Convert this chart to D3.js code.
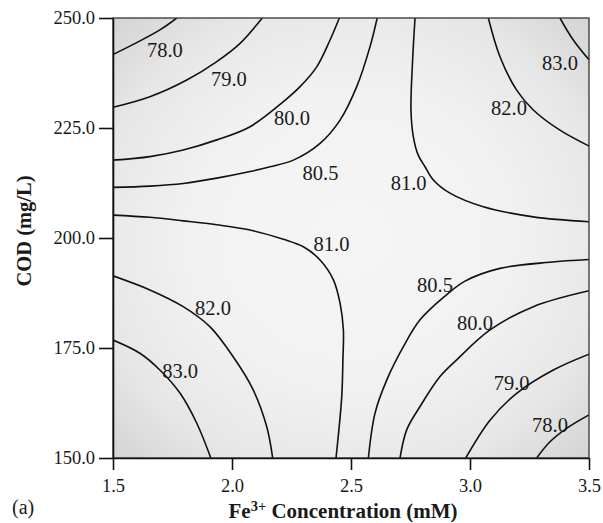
<!DOCTYPE html>
<html>
<head>
<meta charset="utf-8">
<script src="https://cdn.jsdelivr.net/npm/d3@7"></script>
<style>
  html, body { margin: 0; padding: 0; background: #fff; }
  svg { display: block; }
  svg text { font-family: "Liberation Serif", "Times New Roman", "DejaVu Serif", serif !important; fill: #1a1a1a; }
</style>
</head>
<body>
<svg id="chart" width="603" height="523"></svg>
<script>
// ---- data (Fe3+ mM, COD mg/L) ----
const xTicks = [1.5, 2.0, 2.5, 3.0, 3.5];
const yTicks = [150, 175, 200, 225, 250];

const contour78TL = [[1.5,241.7],[1.585,244.0],[1.697,247.3],[1.768,250]];
const contour79TL = [[1.5,229.7],[1.655,232.1],[1.810,235.9],[1.936,240.1],[2.034,244.25],[2.127,250]];
const contour80TL = [[1.5,217.7],[1.655,218.5],[1.795,220.0],[1.936,222.3],[2.076,225.3],[2.216,231.0],[2.286,234.4],[2.356,238.9],[2.412,245.0],[2.451,250]];
const contour805TL = [[1.5,211.5],[1.655,211.8],[1.795,212.4],[1.936,213.6],[2.076,215.1],[2.160,216.2],[2.258,217.7],[2.370,221.5],[2.454,226.8],[2.524,234.4],[2.580,243.5],[2.610,250]];
const contour81TR = [[2.769,250],[2.759,240.5],[2.752,229.1],[2.762,223.0],[2.782,218.9],[2.811,216.2],[2.846,213.2],[2.916,210.2],[3.056,207.1],[3.266,204.8],[3.5,203.7]];
const contour82TR = [[3.077,250],[3.126,241.2],[3.196,233.6],[3.266,229.1],[3.378,224.5],[3.5,220.9]];
const contour83TR = [[3.378,250],[3.434,245.0],[3.5,240.5]];
const contour81BL = [[1.5,205.2],[1.655,204.7],[1.795,203.9],[1.936,203.0],[2.076,201.8],[2.216,199.7],[2.300,198.0],[2.370,195.0],[2.426,190.5],[2.454,185.2],[2.468,179.1],[2.466,172.3],[2.461,163.9],[2.437,150]];
const contour82BL = [[1.5,191.4],[1.655,188.2],[1.795,184.4],[1.908,179.8],[2.005,173.0],[2.089,165.5],[2.146,157.1],[2.171,150]];
const contour83BL = [[1.5,176.8],[1.613,173.8],[1.697,170.0],[1.782,164.7],[1.852,157.9],[1.911,150]];
const contour805BR = [[3.5,195.1],[3.336,194.5],[3.126,193.1],[2.979,190.2],[2.895,186.8],[2.790,181.4],[2.720,175.3],[2.650,167.7],[2.601,160.2],[2.573,150]];
const contour80BR = [[3.5,188.0],[3.266,184.4],[3.084,179.1],[2.944,172.3],[2.874,168.5],[2.790,161.7],[2.734,156.4],[2.706,150]];
const contour79BR = [[3.5,173.6],[3.350,170.0],[3.196,164.7],[3.084,158.6],[2.982,150]];
const contour78BR = [[3.5,159.8],[3.406,156.75],[3.336,153.7],[3.280,150]];

const contours = [contour78TL, contour79TL, contour80TL, contour805TL, contour81TR, contour82TR, contour83TR,
                  contour81BL, contour82BL, contour83BL, contour805BR, contour80BR, contour79BR, contour78BR];

const labelText = ["78.0","79.0","80.0","80.5","81.0","81.0","82.0","83.0","82.0","83.0","80.5","80.0","79.0","78.0"];
const labelX    = [1.718, 1.987, 2.252, 2.372, 2.742, 2.418, 3.164, 3.378, 1.920, 1.782, 2.853, 3.021, 3.175, 3.336];
const labelY    = [242.7, 236.1, 227.2, 214.7, 212.4, 198.6, 229.5, 239.8, 184.1, 169.8, 189.3, 180.7, 167.0, 157.5];

// ---- layout ----
const SERIF = "'Liberation Serif', 'Times New Roman', 'DejaVu Serif', serif";
const svg = d3.select("#chart");
const L = 113, R = 589, T = 18, B = 458;
const x = d3.scaleLinear().domain([1.5, 3.5]).range([L, R]);
const y = d3.scaleLinear().domain([150, 250]).range([B, T]);

const defs = svg.append("defs");
const grad = defs.append("radialGradient").attr("id", "bg")
  .attr("cx", "50%").attr("cy", "50%").attr("r", "72%");
grad.append("stop").attr("offset", "0%").attr("stop-color", "#f5f5f5");
grad.append("stop").attr("offset", "45%").attr("stop-color", "#f2f2f2");
grad.append("stop").attr("offset", "75%").attr("stop-color", "#e7e7e7");
grad.append("stop").attr("offset", "100%").attr("stop-color", "#d2d2d2");
defs.append("clipPath").attr("id", "clip").append("rect")
  .attr("x", L).attr("y", T).attr("width", R - L).attr("height", B - T);

svg.append("rect").attr("x", L).attr("y", T).attr("width", R - L).attr("height", B - T)
  .attr("fill", "url(#bg)");

const line = d3.line().x(d => x(d[0])).y(d => y(d[1])).curve(d3.curveCatmullRom.alpha(0.5));
svg.append("g").attr("clip-path", "url(#clip)")
  .selectAll("path").data(contours).join("path")
  .attr("d", line).attr("fill", "none").attr("stroke", "#111").attr("stroke-width", 1.6);

svg.append("g").selectAll("text").data(labelText).join("text")
  .attr("x", (d, i) => x(labelX[i])).attr("y", (d, i) => y(labelY[i]))
  .attr("text-anchor", "middle").attr("dominant-baseline", "central")
  .attr("font-family", SERIF).style("font-size", "20.5px").text(d => d);

// frame
svg.append("rect").attr("x", L).attr("y", T).attr("width", R - L).attr("height", B - T)
  .attr("fill", "none").attr("stroke", "#333").attr("stroke-width", 1.3);

// axes
const xAxis = svg.append("g").attr("transform", `translate(0,${B})`)
  .call(d3.axisBottom(x).tickValues(xTicks).tickFormat(d3.format(".1f")).tickSize(12).tickSizeOuter(0).tickPadding(9));
const yAxis = svg.append("g").attr("transform", `translate(${L},0)`)
  .call(d3.axisLeft(y).tickValues(yTicks).tickFormat(d3.format(".1f")).tickSize(14).tickSizeOuter(0).tickPadding(4));
[xAxis, yAxis].forEach(g => {
  g.attr("font-family", SERIF).attr("font-size", 18.5);
  g.select(".domain").attr("stroke", "#111").attr("stroke-width", 1.6);
  g.selectAll(".tick line").attr("stroke", "#111").attr("stroke-width", 1.6);
  g.selectAll(".tick text").attr("font-family", SERIF).style("font-size", "18.5px").attr("fill", "#1a1a1a");
});

// titles
const xt = svg.append("text").attr("x", 343).attr("y", 518).attr("text-anchor", "middle")
  .attr("font-family", SERIF).style("font-size", "21px").style("font-weight", "bold");
xt.append("tspan").text("Fe");
xt.append("tspan").attr("dy", -7).style("font-size", "14.5px").text("3+");
xt.append("tspan").attr("dy", 7).text(" Concentration (mM)");

svg.append("text").attr("transform", "translate(31,231) rotate(-90)").attr("text-anchor", "middle")
  .attr("font-family", SERIF).style("font-size", "20.5px").style("font-weight", "bold").text("COD (mg/L)");

svg.append("text").attr("x", 12).attr("y", 514).attr("font-family", SERIF).style("font-size", "20px").text("(a)");
</script>
</body>
</html>
